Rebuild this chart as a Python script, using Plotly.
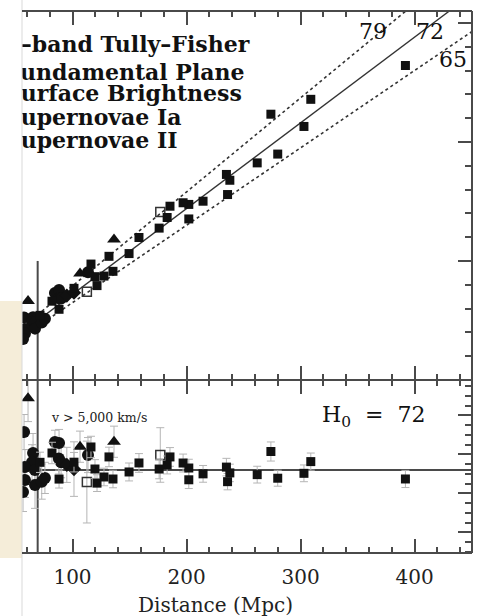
import plotly.graph_objects as go

# ---- data -------------------------------------------------------------
# Type Ia supernovae: distance (Mpc), recession velocity (km/s), error on H0
sn1a_dist = [392, 309, 303, 274, 280, 262, 238, 236, 235, 214.5, 202, 202, 197,
             185.5, 183, 176, 158.3, 149.6, 135.5, 132, 127.6, 121.5, 119.7,
             116.2, 101.3, 88.2, 82.0, 71.5]
sn1a_vel = [26420, 23580, 21300, 22330, 18980, 18240, 16780, 15580, 17270, 15020,
            14750, 13530, 14890, 14600, 13650, 12760, 11970, 10620, 9130, 10390,
            8730, 7930, 8680, 9740, 7700, 5940, 6620, 5430]
sn1a_err = [4.4, 4.4, 4.3, 4.9, 4.1, 4.3, 4.5, 4.2, 4.5, 4.3, 4.5, 4.5, 4.6,
            4.8, 4.6, 5.0, 4.8, 4.6, 4.5, 5.0, 4.5, 4.3, 4.8, 5.5, 5.0, 4.6,
            5.5, 5.2]

# Type II supernovae
sn2_dist = [177, 112.6]
sn2_vel = [14110, 7410]
sn2_err = [14, 21]

# Fundamental plane
fp_dist = [61.0, 106.6, 136.4]
fp_vel = [6640, 8950, 11800]
fp_err = [12, 8, 8]

# Surface brightness fluctuations
sbf_dist = [95.0, 101.3]
sbf_vel = [7090, 7340]
sbf_err = [9, 14]

# I-band Tully-Fisher clusters
tf_dist = [57.5, 65.4, 64.5, 58.3, 67.0, 58.3, 67.1, 73.0, 75.8, 56.6, 84.6,
           88.2, 88.0, 90.0, 113.6]
tf_vel = [5260, 5280, 4900, 4285, 4820, 3900, 4315, 4820, 5150, 3435, 7310,
          7570, 6860, 6840, 9050]
tf_err = [9, 10, 9, 9, 8, 9, 12, 9, 8, 10, 6, 7, 8, 8, 9]

hubble_values = [79, 72, 65]
h0_best = 72
v_cut = 5000

legend_lines = ["I\u2013band Tully\u2013Fisher", "Fundamental Plane",
                "Surface Brightness", "Supernovae Ia", "Supernovae II"]

# ---- geometry ---------------------------------------------------------
X_RANGE = [55.7, 450.4]
V_RANGE = [0, 31000]
H_RANGE = [29.4, 118.2]
SPLIT = 0.3192

INK = "#111111"
AXIS = "#4a4a4a"
LINE = "#333333"
ERR = "#b5b5b5"
SERIF = "DejaVu Serif"

fig = go.Figure()

# Hubble-law lines in the upper panel
for h in hubble_values:
    xmax = min(X_RANGE[1], V_RANGE[1] / h)
    fig.add_trace(go.Scatter(
        x=[0, xmax], y=[0, h * xmax], mode="lines",
        line=dict(color=LINE, width=1.4 if h == h0_best else 1.6,
                  dash="solid" if h == h0_best else "dot"),
        xaxis="x", yaxis="y", hoverinfo="skip", showlegend=False))

d_cut = v_cut / h0_best
fig.add_trace(go.Scatter(x=[d_cut, d_cut], y=[0, 10000], mode="lines",
                         line=dict(color=AXIS, width=2), xaxis="x", yaxis="y",
                         showlegend=False, hoverinfo="skip"))
fig.add_trace(go.Scatter(x=[d_cut, d_cut], y=H_RANGE, mode="lines",
                         line=dict(color=AXIS, width=2), xaxis="x2", yaxis="y2",
                         showlegend=False, hoverinfo="skip"))
fig.add_trace(go.Scatter(x=[0, X_RANGE[1]], y=[h0_best, h0_best], mode="lines",
                         line=dict(color=AXIS, width=2), xaxis="x2", yaxis="y2",
                         showlegend=False, hoverinfo="skip"))

series = [
    (tf_dist, tf_vel, tf_err, dict(symbol="circle", size=12, color=INK)),
    (fp_dist, fp_vel, fp_err, dict(symbol="triangle-up", size=12, color=INK)),
    (sbf_dist, sbf_vel, sbf_err, dict(symbol="diamond", size=11, color=INK)),
    (sn2_dist, sn2_vel, sn2_err, dict(symbol="square-open", size=9, color="#333333",
                                      line=dict(width=1.5, color="#333333"))),
    (sn1a_dist, sn1a_vel, sn1a_err, dict(symbol="square", size=9, color=INK)),
]

for dist, vel, err, mk in series:
    hval = [v / d for v, d in zip(vel, dist)]
    fig.add_trace(go.Scatter(
        x=dist, y=hval, mode="markers", marker=mk, xaxis="x2", yaxis="y2",
        error_y=dict(type="data", array=err, color=ERR, thickness=1, width=4),
        showlegend=False, hoverinfo="skip"))

for dist, vel, err, mk in series:
    fig.add_trace(go.Scatter(
        x=dist, y=vel, mode="markers", marker=mk, xaxis="x", yaxis="y",
        showlegend=False, hoverinfo="skip"))

# Method key, clipped by the plotting area
key_x = [45.6, 40.6, 40.6, 40.6, 40.6]
key_v = [27980, 25630, 23870, 21850, 19920]
fig.add_trace(go.Scatter(
    x=key_x, y=key_v, mode="text", text=legend_lines,
    textposition="middle right", cliponaxis=True,
    textfont=dict(family=SERIF, size=22, color="#111111", weight="bold"),
    xaxis="x", yaxis="y", showlegend=False, hoverinfo="skip"))

annotations = [
    dict(x=363.6, y=29240, xref="x", yref="y", text="79", showarrow=False,
         font=dict(family=SERIF, size=22, color="#111111")),
    dict(x=413.6, y=29240, xref="x", yref="y", text="72", showarrow=False,
         font=dict(family=SERIF, size=22, color="#111111")),
    dict(x=433.8, y=26890, xref="x", yref="y", text="65", showarrow=False,
         font=dict(family=SERIF, size=22, color="#111111")),
    dict(x=363.6, y=99.5, xref="x2", yref="y2",
         text="H<sub>0</sub>&nbsp; = &nbsp;72",
         showarrow=False, font=dict(family=SERIF, size=22, color="#111111")),
    dict(x=79.4, y=99.2, xref="x2", yref="y2", text="v > 5,000 km/s",
         xanchor="left", yanchor="middle", showarrow=False,
         font=dict(family=SERIF, size=12.5, color="#222222")),
    dict(x=225, y=-0.096, xref="x2", yref="paper", text="Distance (Mpc)",
         yanchor="middle", showarrow=False,
         font=dict(family=SERIF, size=20, color="#222222")),
]

frame = dict(color=AXIS, width=2)
shapes = [
    dict(type="rect", xref="paper", yref="paper", x0=-0.049, x1=0,
         y0=-0.0092, y1=0.465, fillcolor="#f5edd9", line=dict(width=0),
         layer="below"),
    dict(type="line", xref="paper", yref="paper", x0=0, x1=0,
         y0=-0.12, y1=1.03, line=dict(color="#d9d9d9", width=1)),
    # panel frames
    dict(type="line", xref="paper", yref="paper", x0=0, x1=1, y0=1, y1=1, line=frame),
    dict(type="line", xref="paper", yref="paper", x0=0, x1=1, y0=SPLIT, y1=SPLIT, line=frame),
    dict(type="line", xref="paper", yref="paper", x0=0, x1=1, y0=0, y1=0, line=frame),
    dict(type="line", xref="paper", yref="paper", x0=1, x1=1, y0=0, y1=1, line=frame),
]

def xax(show_labels, anchor):
    return dict(range=X_RANGE, domain=[0, 1], anchor=anchor, showgrid=False,
                zeroline=False, showline=False,
                mirror="ticks", ticks="inside", ticklen=14, tickwidth=2,
                tickcolor=AXIS, tick0=0, dtick=100,
                minor=dict(tick0=0, dtick=20, ticks="inside", ticklen=6,
                           tickwidth=2, tickcolor=AXIS),
                showticklabels=show_labels, ticklabelstandoff=10,
                tickfont=dict(family=SERIF, size=20, color="#222222"))

def yax(rng, domain, anchor, dtick, minor_dtick):
    return dict(range=rng, domain=domain, anchor=anchor, side="right",
                showgrid=False, zeroline=False, showline=False,
                ticks="inside", ticklen=14, tickwidth=2,
                tickcolor=AXIS, tick0=0, dtick=dtick,
                minor=dict(tick0=0, dtick=minor_dtick, ticks="inside",
                           ticklen=7, tickwidth=2, tickcolor=AXIS),
                showticklabels=False)

fig.update_layout(
    width=479, height=616,
    margin=dict(l=22, r=7, t=11, b=63),
    paper_bgcolor="white", plot_bgcolor="white",
    xaxis=xax(False, "y"),
    yaxis=yax(V_RANGE, [SPLIT, 1], "x", 10000, 2000),
    xaxis2=xax(True, "y2"),
    yaxis2=yax(H_RANGE, [0, SPLIT], "x2", 20, 5),
    annotations=annotations, shapes=shapes,
)

fig.write_html("out.html")
